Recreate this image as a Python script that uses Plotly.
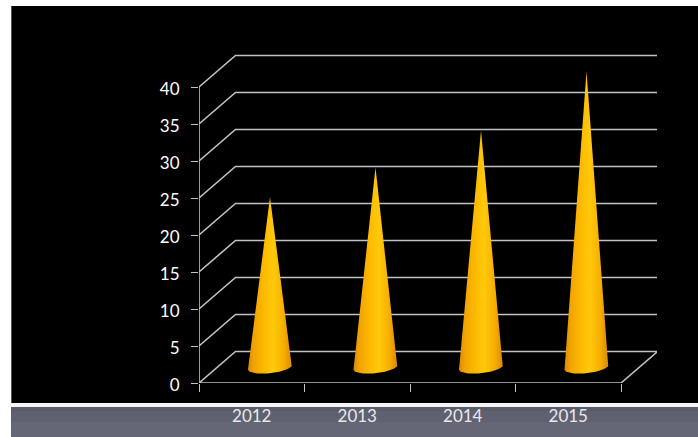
import numpy as np
import plotly.graph_objects as go

# Chart data
years = ["2012", "2013", "2014", "2015"]
values = [23, 27, 32, 40]
y_ticks = [0, 5, 10, 15, 20, 25, 30, 35, 40]

# Page and plot geometry in pixels
WIDTH, HEIGHT = 698, 437
LEFT, RIGHT, TOP, BOTTOM = 199, 41, 50, 54
PLOT_W = WIDTH - LEFT - RIGHT
PLOT_H = HEIGHT - TOP - BOTTOM

# Scales of the flat axes
Y_MAX = 45
X_MIN = -0.5
X_UNIT = 105.5
Y_UNIT = PLOT_H / Y_MAX
X_MAX = X_MIN + PLOT_W / X_UNIT

# Oblique depth of the box, in axis units
DEPTH_X = 36.5 / X_UNIT
DEPTH_Y = 31.5 / Y_UNIT

# Cone shape, in axis units; the base ellipse tilts up toward the right
CONE_RX = 22 / X_UNIT
CONE_RY = 6.0 / Y_UNIT
CONE_TILT = 2.2 / Y_UNIT
CONE_GRADIENT = [
    [0.0, "#d98a00"], [0.12, "#efa200"], [0.35, "#fcb800"],
    [0.58, "#ffc90a"], [0.82, "#f6ae00"], [1.0, "#d88a00"],
]

LINE = "#c2c2c2"
fig = go.Figure()

# Wall and floor grid: front edge, oblique run, back edge
for v in y_ticks:
    xs = [X_MIN, X_MIN + DEPTH_X, X_MIN + 4 + DEPTH_X]
    ys = [v, v + DEPTH_Y, v + DEPTH_Y]
    if v == 0:
        xs += [X_MIN + 4, X_MIN]
        ys += [0, 0]
    fig.add_trace(go.Scatter(x=xs, y=ys, mode="lines", cliponaxis=False,
                             line=dict(color=LINE, width=1.6),
                             hoverinfo="skip", showlegend=False))

# Upright axis on the front face
fig.add_trace(go.Scatter(x=[X_MIN, X_MIN], y=[0, y_ticks[-1]], mode="lines",
                         cliponaxis=False, line=dict(color=LINE, width=1.6),
                         hoverinfo="skip", showlegend=False))

# One cone per year, standing halfway into the box depth
t = np.linspace(0, np.pi, 40)
for i, (year, value) in enumerate(zip(years, values)):
    cx = i + DEPTH_X / 2
    base = DEPTH_Y / 2
    rim_x = cx + CONE_RX * np.cos(t)
    rim_y = base - CONE_RY * np.sin(t) + CONE_TILT * np.cos(t)
    xs = np.concatenate([[cx], rim_x, [cx]])
    ys = np.concatenate([[base + value], rim_y, [base + value]])
    fig.add_trace(go.Scatter(
        x=xs, y=ys, mode="lines", fill="toself", cliponaxis=False,
        line=dict(width=0, color="rgba(0,0,0,0)"),
        fillgradient=dict(type="horizontal", colorscale=CONE_GRADIENT),
        name=year, showlegend=False,
    ))


def px(x):
    return (x - LEFT) / PLOT_W


def py(y):
    return (HEIGHT - BOTTOM - y) / PLOT_H


def panel(x0, y0, x1, y1, color):
    return dict(type="rect", xref="paper", yref="paper", layer="below",
                x0=px(x0), x1=px(x1), y0=py(y1), y1=py(y0),
                fillcolor=color, line=dict(width=0))


# Black slide area, its edge, and the grey footer strip
shapes = [
    panel(11, 6, 12, 403, "#555555"),
    panel(12, 6, WIDTH, 403, "#000000"),
    panel(11, 403, WIDTH, 407, "#f4f4f4"),
    panel(11, 407, WIDTH, 411, "#5a5c6a"),
    panel(11, 411, WIDTH, 422, "#5f6170"),
    panel(11, 422, WIDTH, HEIGHT, "#656776"),
]

fig.update_layout(
    width=WIDTH, height=HEIGHT,
    margin=dict(l=LEFT, r=RIGHT, t=TOP, b=BOTTOM, pad=0),
    paper_bgcolor="#ffffff", plot_bgcolor="rgba(0,0,0,0)",
    font=dict(family="Lato", color="#ffffff"),
    showlegend=False, shapes=shapes,
    xaxis=dict(
        range=[X_MIN, X_MAX], showgrid=False, zeroline=False, showline=False,
        tickmode="array", tickvals=list(range(len(years))), ticktext=years,
        ticks="", ticklabelstandoff=21, tickfont=dict(size=17, color="#e8e8ea"),
        minor=dict(tickmode="array", tickvals=[X_MIN + k for k in range(5)],
                   ticks="outside", ticklen=8, tickwidth=1.4, tickcolor=LINE,
                   showgrid=False),
    ),
    yaxis=dict(
        range=[0, Y_MAX], showgrid=False, zeroline=False, showline=False,
        tickmode="array", tickvals=y_ticks, ticks="outside", ticklen=7,
        tickwidth=1.4, tickcolor=LINE, ticklabelstandoff=8, ticklabelshift=2,
        tickfont=dict(size=17, color="#ffffff"),
    ),
)

fig.write_html("out.html", config=dict(displayModeBar=False))
